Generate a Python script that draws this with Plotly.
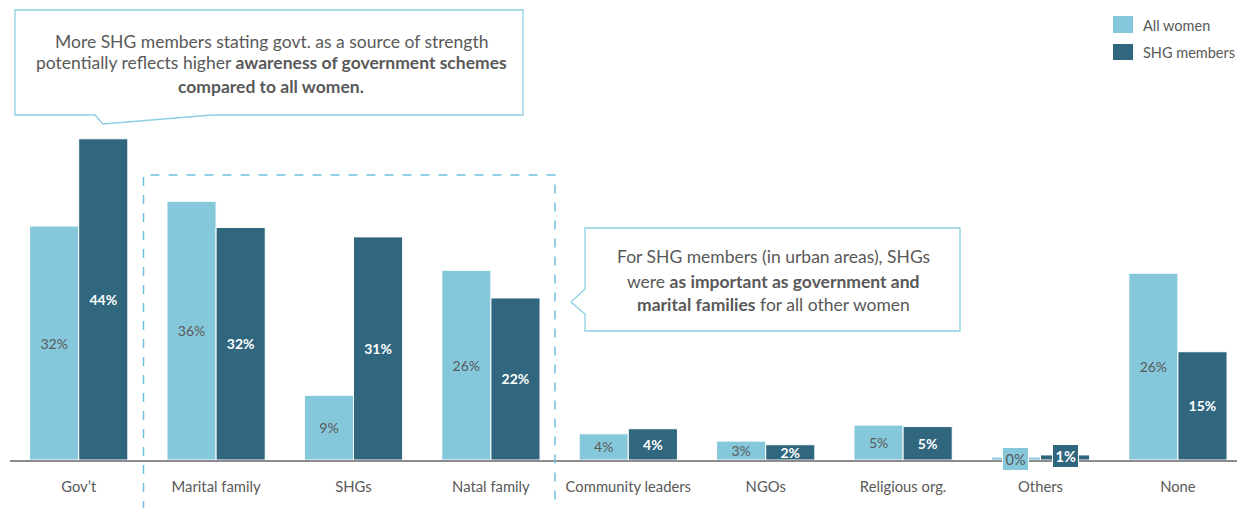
import plotly.graph_objects as go

categories = ["Gov’t", "Marital family", "SHGs", "Natal family", "Community leaders",
              "NGOs", "Religious org.", "Others", "None"]
all_women = [32.2, 35.6, 8.9, 26.1, 3.6, 2.6, 4.8, 0.4, 25.7]
shg_members = [44.2, 32.0, 30.7, 22.3, 4.3, 2.1, 4.6, 0.7, 14.9]
series_names = ["All women", "SHG members"]

LIGHT = "#86C8DB"
DARK = "#30677F"
GRAY = "#595959"
BORDER = "#8DD0E2"
FONT = "Lato"

W, H = 1237, 508
L, B = 10, 48
PW, PH = W - L, H - B  # plot area in pixels


def px(x):
    return (x - L) / PW


def py(y):
    return (PH - y) / PH


def path(points):
    s = "M " + " L ".join(f"{px(x):.5f},{py(y):.5f}" for x, y in points) + " Z"
    return s


small = {"Others"}
xs = list(range(len(categories)))

fig = go.Figure()
for name, vals, color, tcolor, weight in [
    (series_names[0], all_women, LIGHT, GRAY, "normal"),
    (series_names[1], shg_members, DARK, "white", "bold"),
]:
    texts = ["" if c in small else f"{round(v)}%" for c, v in zip(categories, vals)]
    fig.add_trace(go.Bar(
        x=xs, y=vals, name=name, marker=dict(color=color, line=dict(color="white", width=1)),
        text=texts, textposition="inside", insidetextanchor="middle", constraintext="none",
        textfont=dict(family=FONT, size=14, color=tcolor, weight=weight),
        showlegend=False, cliponaxis=False,
    ))

# labels for very small bars, boxed
for i, c in enumerate(categories):
    if c in small:
        for off, vals, bg, tc, wt in [(-0.18, all_women, LIGHT, GRAY, "normal"),
                                      (0.18, shg_members, DARK, "white", "bold")]:
            fig.add_annotation(x=i + off, y=vals[i], xref="x", yref="y", yshift=-1.5,
                               text=f"{round(vals[i])}%", showarrow=False,
                               bgcolor=bg, bordercolor="white", borderwidth=1, borderpad=2.5,
                               font=dict(family=FONT, size=14.5, color=tc, weight=wt))

shapes = []
# dashed grouping box
shapes.append(dict(type="rect", xref="paper", yref="paper",
                   x0=px(143.5), x1=px(555), y0=py(520), y1=py(175),
                   line=dict(color="#6EC1DD", width=1.5, dash="dash"), fillcolor="rgba(0,0,0,0)"))
# callout 1
shapes.append(dict(type="path", xref="paper", yref="paper",
                   path=path([(95, 115), (15, 115), (15, 10), (523, 10), (523, 115), (212, 115), (103, 124)]),
                   line=dict(color=BORDER, width=1.3), fillcolor="white"))
# callout 2
shapes.append(dict(type="path", xref="paper", yref="paper",
                   path=path([(585, 228), (960, 228), (960, 331), (585, 331), (585, 314), (571, 302), (585, 289)]),
                   line=dict(color=BORDER, width=1.3), fillcolor="white"))
# legend squares
shapes.append(dict(type="rect", xref="paper", yref="paper", x0=px(1113), x1=px(1133), y0=py(33), y1=py(16),
                   fillcolor=LIGHT, line=dict(width=0)))
shapes.append(dict(type="rect", xref="paper", yref="paper", x0=px(1113), x1=px(1133), y0=py(60), y1=py(44),
                   fillcolor=DARK, line=dict(width=0)))

annots = []
for text, y in [("More SHG members stating govt. as a source of strength", 41),
                ("potentially reflects higher <b>awareness of government schemes</b>", 63),
                ("<b>compared to all women.</b>", 86)]:
    annots.append(dict(x=px(271), y=py(y), xref="paper", yref="paper", text=text, showarrow=False,
                       xanchor="center", yanchor="middle", font=dict(family=FONT, size=17.5, color=GRAY)))
for text, y in [("For SHG members (in urban areas), SHGs", 256),
                ("were <b>as important as government and</b>", 281),
                ("<b>marital families</b> for all other women", 304)]:
    annots.append(dict(x=px(773), y=py(y), xref="paper", yref="paper", text=text, showarrow=False,
                       xanchor="center", yanchor="middle", font=dict(family=FONT, size=17.5, color=GRAY)))
for text, y in [(series_names[0], 25), (series_names[1], 52)]:
    annots.append(dict(x=px(1141), y=py(y), xref="paper", yref="paper", text=text, showarrow=False,
                       xanchor="left", yanchor="middle", font=dict(family=FONT, size=14.5, color=GRAY)))

for a in annots:
    fig.add_annotation(**a)

fig.update_layout(
    width=W, height=H, margin=dict(l=L, r=0, t=0, b=B),
    plot_bgcolor="white", paper_bgcolor="white",
    barmode="group", bargap=0.285, bargroupgap=0,
    shapes=shapes,
    xaxis=dict(tickmode="array", tickvals=xs, ticktext=categories, range=[-0.5, 8.43],
               showgrid=False, zeroline=False, showline=True, linecolor="#8C8C8C", linewidth=2,
               ticks="", ticklabelstandoff=12,
               tickfont=dict(family=FONT, size=14.8, color=GRAY)),
    yaxis=dict(range=[0, 63.3], visible=False, showgrid=False, zeroline=False),
)

fig.write_html("out.html", config={"displayModeBar": False},
               post_script="document.body.style.margin='0';document.body.style.overflow='hidden';")
